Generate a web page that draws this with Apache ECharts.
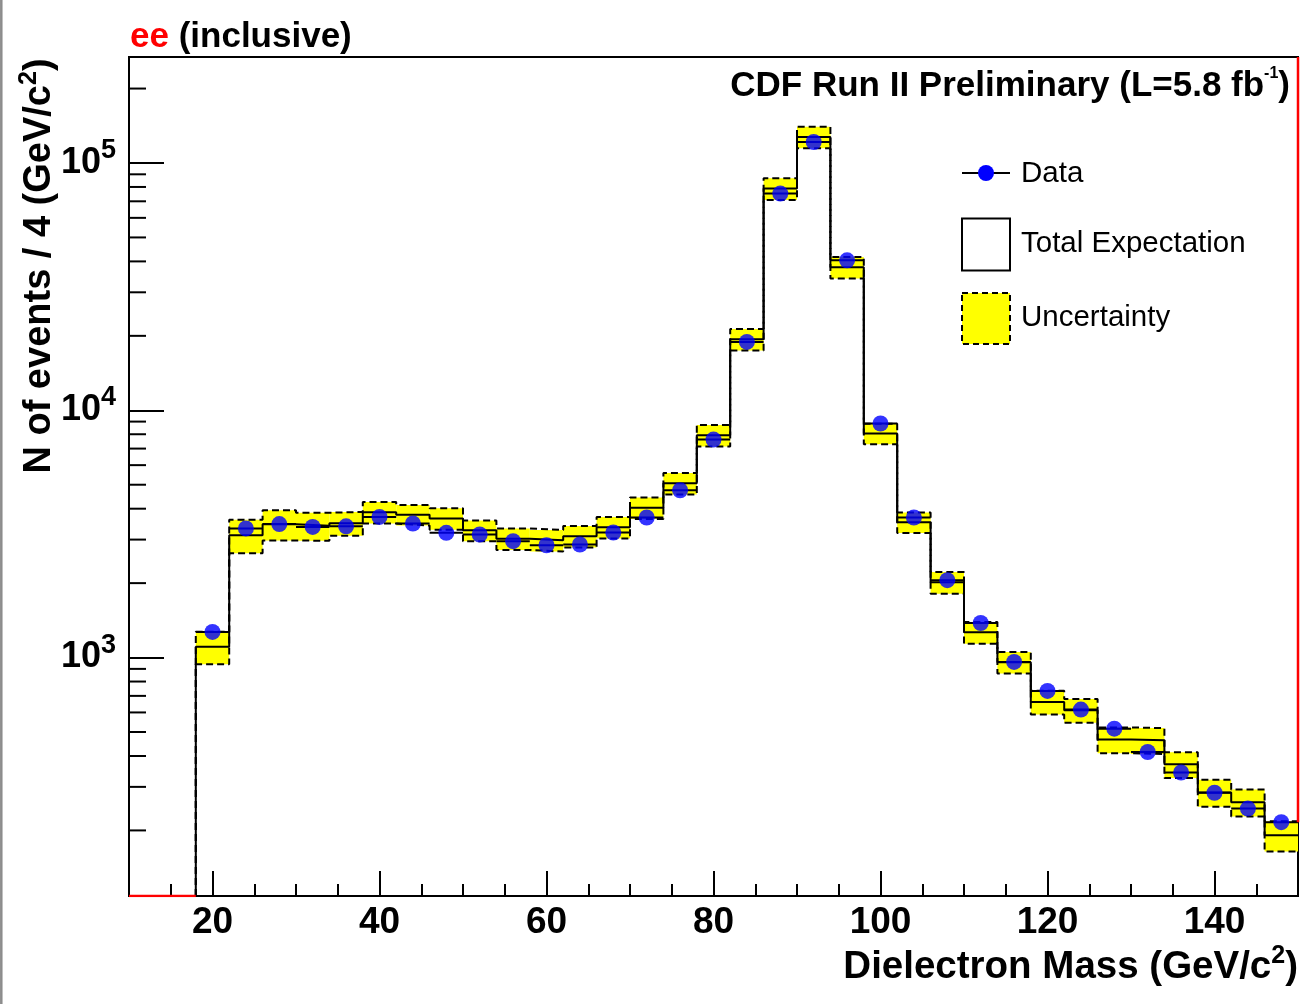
<!DOCTYPE html>
<html>
<head>
<meta charset="utf-8">
<script src="https://cdn.jsdelivr.net/npm/echarts@6/dist/echarts.min.js"></script>
<style>
html, body { margin: 0; padding: 0; background: #fff; }
#chart { width: 1312px; height: 1004px; }
</style>
</head>
<body>
<div id="chart"></div>
<script>
// Dielectron invariant-mass spectrum in 4 GeV/c^2 bins (18-150 GeV/c^2)
const binCenters = [20, 24, 28, 32, 36, 40, 44, 48, 52, 56, 60, 64, 68, 72, 76, 80, 84,
  88, 92, 96, 100, 104, 108, 112, 116, 120, 124, 128, 132, 136, 140, 144, 148];
const binWidth = 4;

// observed events per bin
const observed = [1270, 3330, 3465, 3375, 3395, 3705, 3485, 3195, 3145, 2955, 2845, 2865, 3205,
  3685, 4750, 7610, 18900, 75200, 121600, 40400, 8840, 3685, 2055, 1380, 960, 733, 616, 516,
  415, 343, 284, 245, 216];

// total expectation per bin
const expected = [1105, 3125, 3460, 3410, 3495, 3870, 3780, 3650, 3270, 3025, 2980, 3095, 3365,
  4035, 5070, 7925, 19370, 78800, 127400, 37860, 8050, 3525, 2015, 1265, 957, 661, 612, 466,
  463, 370, 285, 260, 191];

// relative systematic uncertainty on the expectation
const relUncertainty = [0.15, 0.155, 0.14, 0.13, 0.11, 0.10, 0.095, 0.10, 0.097, 0.10, 0.10, 0.10,
  0.10, 0.10, 0.10, 0.10, 0.10, 0.10, 0.10, 0.10, 0.095, 0.095, 0.10, 0.10, 0.10, 0.11, 0.11,
  0.12, 0.12, 0.12, 0.125, 0.125, 0.14];

// axis ranges and tick positions
const X_MIN = 10, X_MAX = 150;
const Y_MIN = 108.6, Y_MAX = 268300;
const xMajorTicks = [20, 40, 60, 80, 100, 120, 140];
const xMinorStep = 5;
const yMinorTicks = [200, 300, 400, 500, 600, 700, 800, 900,
  2000, 3000, 4000, 5000, 6000, 7000, 8000, 9000,
  20000, 30000, 40000, 50000, 60000, 70000, 80000, 90000, 200000];

// red outline segments (empty low-mass region and right-hand edge)
const redLow = [[10, Y_MIN], [18, Y_MIN]];
const redHigh = [[150, Y_MAX], [150, 216]];

const FONT = '"Liberation Sans", Arial, Helvetica, sans-serif';

const upper = expected.map((e, i) => e * (1 + relUncertainty[i]));
const lower = expected.map((e, i) => e * (1 - relUncertainty[i]));

// histogram outline: start at the axis floor on the first low edge, then one point per bin edge
function histOutline(vals) {
  const pts = [[binCenters[0] - binWidth / 2, Y_MIN]];
  binCenters.forEach((c, i) => pts.push([c - binWidth / 2, vals[i]]));
  pts.push([binCenters[binCenters.length - 1] + binWidth / 2, vals[vals.length - 1]]);
  return pts;
}

const chart = echarts.init(document.getElementById('chart'), null, { renderer: 'canvas' });

const tickLine = { color: '#000', width: 2 };

const option = {
  animation: false,
  backgroundColor: '#fff',
  grid: {
    left: 129, right: 14, top: 57, bottom: 108,
    show: true, borderColor: '#000', borderWidth: 2, backgroundColor: 'transparent',
    containLabel: false, outerBoundsMode: 'none'
  },
  xAxis: [
    {
      type: 'value', min: X_MIN, max: X_MAX, position: 'bottom',
      axisLine: { show: true, onZero: false, lineStyle: { color: '#000', width: 2 } },
      axisTick: { show: true, inside: true, length: 25, lineStyle: tickLine, customValues: xMajorTicks },
      axisLabel: {
        customValues: xMajorTicks, color: '#000', fontFamily: FONT, fontWeight: 'bold',
        fontSize: 37, margin: 8
      },
      splitLine: { show: false }
    },
    {
      type: 'value', min: X_MIN, max: X_MAX, interval: xMinorStep, position: 'bottom',
      axisLine: { show: false },
      axisTick: { show: true, inside: true, length: 12, lineStyle: tickLine },
      axisLabel: { show: false },
      splitLine: { show: false }
    }
  ],
  yAxis: {
    type: 'log', logBase: 10, min: Y_MIN, max: Y_MAX, position: 'left',
    axisLine: { show: true, onZero: false, lineStyle: { color: '#000', width: 2 } },
    axisTick: { show: true, inside: true, length: 35, lineStyle: tickLine },
    axisLabel: {
      showMinLabel: false, showMaxLabel: false, margin: 13,
      formatter: function (v) {
        const e = Math.log10(v);
        if (Math.abs(e - Math.round(e)) > 1e-6) return '';
        return '{b|10}{s|' + Math.round(e) + '}';
      },
      rich: {
        b: { fontFamily: FONT, fontWeight: 'bold', fontSize: 36, color: '#000', lineHeight: 52 },
        s: { fontFamily: FONT, fontWeight: 'bold', fontSize: 27, color: '#000', verticalAlign: 'top' }
      }
    },
    splitLine: { show: false }
  },
  series: [
    {
      name: 'Uncertainty', type: 'custom', z: 1, xAxisIndex: 0,
      data: binCenters.map((c, i) => [c, lower[i], upper[i]]),
      encode: { x: 0, y: [1, 2] },
      renderItem: function (params, api) {
        const c = api.value(0);
        const p0 = api.coord([c - binWidth / 2, api.value(2)]);
        const p1 = api.coord([c + binWidth / 2, api.value(1)]);
        return {
          type: 'rect',
          shape: { x: p0[0], y: p0[1], width: p1[0] - p0[0], height: p1[1] - p0[1] },
          style: { fill: '#ffff00' }
        };
      }
    },
    {
      name: 'Uncertainty up', type: 'line', step: 'end', z: 2, symbol: 'none',
      data: histOutline(upper),
      lineStyle: { color: '#000', width: 2, type: [7, 4] }
    },
    {
      name: 'Uncertainty down', type: 'line', step: 'end', z: 2, symbol: 'none',
      data: histOutline(lower),
      lineStyle: { color: '#000', width: 2, type: [7, 4] }
    },
    {
      name: 'Total Expectation', type: 'line', step: 'end', z: 3, symbol: 'none',
      data: histOutline(expected),
      lineStyle: { color: '#000', width: 2 }
    },
    {
      name: 'Data bin width', type: 'custom', z: 4,
      data: binCenters.map((c, i) => [c, observed[i]]),
      renderItem: function (params, api) {
        const c = api.value(0), v = api.value(1);
        const a = api.coord([c - binWidth / 2, v]);
        const b = api.coord([c + binWidth / 2, v]);
        return {
          type: 'line',
          shape: { x1: a[0], y1: a[1], x2: b[0], y2: b[1] },
          style: { stroke: '#000', lineWidth: 2 }
        };
      }
    },
    {
      name: 'Data', type: 'scatter', z: 5,
      data: binCenters.map((c, i) => [c, observed[i]]),
      symbol: 'circle', symbolSize: 16,
      itemStyle: { color: '#0000ff' }
    },
    {
      name: 'red low', type: 'line', z: 6, symbol: 'none', data: redLow,
      lineStyle: { color: '#ff0000', width: 2.5 }
    },
    {
      name: 'red high', type: 'line', z: 6, symbol: 'none', data: redHigh,
      lineStyle: { color: '#ff0000', width: 2.5 }
    },
    {
      name: 'y minor ticks', type: 'custom', z: 7, silent: true,
      data: yMinorTicks.map(v => [X_MIN, v]),
      renderItem: function (params, api) {
        const p = api.coord([api.value(0), api.value(1)]);
        return {
          type: 'line',
          shape: { x1: p[0], y1: p[1], x2: p[0] + 17, y2: p[1] },
          style: { stroke: '#000', lineWidth: 2 }
        };
      }
    }
  ],
  graphic: [
    { type: 'line', shape: { x1: 1.3, y1: 0, x2: 1.3, y2: 1004 }, style: { stroke: '#8c8c8c', lineWidth: 2.5 } },
    {
      type: 'text', x: 130, y: 37,
      style: {
        text: '{r|ee} (inclusive)', fill: '#000', font: 'bold 35px ' + FONT,
        verticalAlign: 'middle', align: 'left',
        rich: { r: { fill: '#ff0000', font: 'bold 35px ' + FONT } }
      }
    },
    {
      type: 'text', x: 1290, y: 86,
      style: {
        text: '{m|CDF Run II Preliminary (L=5.8 fb}{s|-1}{m|)}',
        align: 'right', verticalAlign: 'middle',
        rich: {
          m: { fill: '#000', font: 'bold 35px ' + FONT, lineHeight: 40 },
          s: { fill: '#000', font: 'bold 16px ' + FONT, verticalAlign: 'top' }
        }
      }
    },
    {
      type: 'text', x: 40, y: 266, rotation: Math.PI / 2,
      style: {
        text: '{m|N of events / 4 (GeV/c}{s|2}{m|)}',
        align: 'center', verticalAlign: 'middle',
        rich: {
          m: { fill: '#000', font: 'bold 38px ' + FONT, lineHeight: 46 },
          s: { fill: '#000', font: 'bold 25px ' + FONT, verticalAlign: 'top' }
        }
      }
    },
    {
      type: 'text', x: 1298, y: 967,
      style: {
        text: '{m|Dielectron Mass (GeV/c}{s|2}{m|)}',
        align: 'right', verticalAlign: 'middle',
        rich: {
          m: { fill: '#000', font: 'bold 38.5px ' + FONT, lineHeight: 46 },
          s: { fill: '#000', font: 'bold 25px ' + FONT, verticalAlign: 'top' }
        }
      }
    },
    // legend
    { type: 'line', shape: { x1: 962, y1: 173, x2: 1010, y2: 173 }, style: { stroke: '#000', lineWidth: 2 } },
    { type: 'circle', shape: { cx: 986, cy: 173, r: 8 }, style: { fill: '#0000ff' } },
    { type: 'text', x: 1021, y: 174, style: { text: 'Data', fill: '#000', font: '29.5px ' + FONT, verticalAlign: 'middle' } },
    { type: 'rect', shape: { x: 962, y: 218.5, width: 48, height: 52 }, style: { fill: '#fff', stroke: '#000', lineWidth: 2 } },
    { type: 'text', x: 1021, y: 244, style: { text: 'Total Expectation', fill: '#000', font: '29.5px ' + FONT, verticalAlign: 'middle' } },
    { type: 'rect', shape: { x: 962, y: 293, width: 48, height: 51 }, style: { fill: '#ffff00', stroke: '#000', lineWidth: 2, lineDash: [6, 4] } },
    { type: 'text', x: 1021, y: 318, style: { text: 'Uncertainty', fill: '#000', font: '29.5px ' + FONT, verticalAlign: 'middle' } }
  ]
};

chart.setOption(option);
</script>
</body>
</html>
